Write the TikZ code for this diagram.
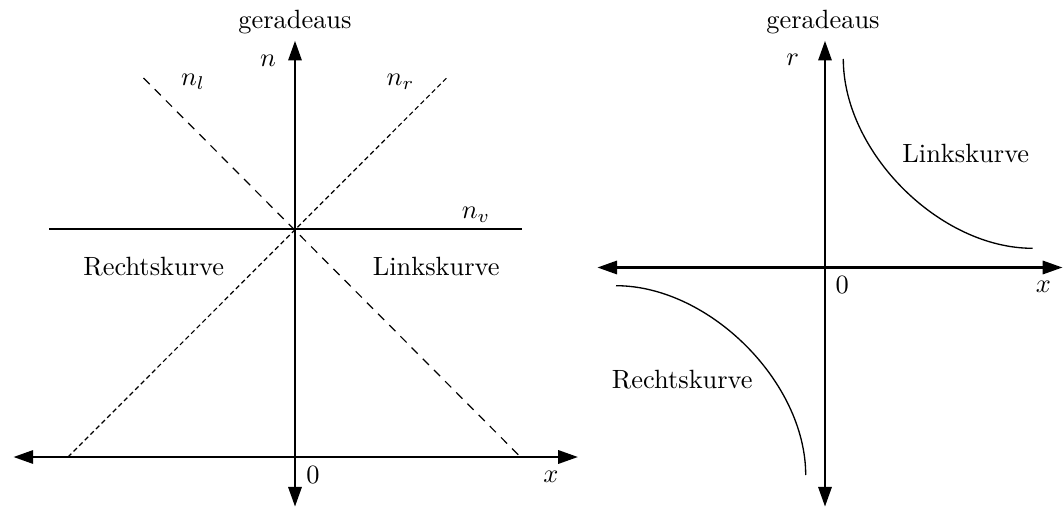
\documentclass[tikz,border=0pt]{standalone}
\usetikzlibrary{arrows.meta}
\begin{document}
\begin{tikzpicture}[x=0.3788pt,y=-0.3788pt,
  axis/.style={line width=1pt,{Triangle[length=7.5pt,width=5pt]}-{Triangle[length=7.5pt,width=5pt]}},
  thinline/.style={line width=0.5pt},
  longdash/.style={line width=0.45pt,dash pattern=on 3.3pt off 2.7pt},
  shortdash/.style={line width=0.45pt,dash pattern=on 1.8pt off 1.2pt},
  lbl/.style={inner sep=0pt,anchor=base}]
\useasboundingbox (0,0) rectangle (1063,508);
% ---------- left diagram ----------
\coordinate (Lt) at (295,40.7);
\coordinate (Lb) at (295,506.7);
\coordinate (Ll) at (13.4,457);
\coordinate (Lr) at (578,457);
\coordinate (Lvl) at (49,229);
\coordinate (Lvr) at (521.6,229);
\coordinate (Lrb) at (68,457);
\coordinate (Lrt) at (446.6,78);
\coordinate (Llt) at (143.5,78);
\coordinate (Llb) at (520.5,457);
\draw[thinline] (Lvl) -- (Lvr);
\draw[shortdash] (Lrb) -- (Lrt);
\draw[longdash] (Llt) -- (Llb);
\draw[axis] (Lb) -- (Lt);
\draw[axis] (Ll) -- (Lr);
\node[lbl] (lgerade) at (295,28.5) {geradeaus};
\node[lbl] (ln) at (268,66.5) {$n$};
\node[lbl] (lnl) at (193,85.7) {$n_l$};
\node[lbl] (lnr) at (400.5,85.7) {$n_r$};
\node[lbl] (lnv) at (476,218.3) {$n_v$};
\node[lbl] (lrechts) at (153.7,275) {Rechtskurve};
\node[lbl] (llinks) at (436.2,275) {Linkskurve};
\node[lbl] (lnull) at (313,483) {$0$};
\node[lbl] (lx) at (551,482.3) {$x$};
% ---------- right diagram ----------
\coordinate (Rt) at (825,40.7);
\coordinate (Rb) at (825,506.7);
\coordinate (Rl) at (597.3,267.5);
\coordinate (Rr) at (1062.5,267.5);
\coordinate (Ls) at (843.3,59);
\coordinate (Le) at (1032.5,248.3);
\coordinate (Rs) at (616,285.7);
\coordinate (Re) at (805.7,475);
\draw[thinline] (Ls) .. controls (843.3,152) and (939.5,248.3) .. (Le);
\draw[thinline] (Rs) .. controls (709,285.7) and (805.7,382) .. (Re);
\draw[axis] (Rb) -- (Rt);
\draw[axis] (Rl) -- (Rr);
\node[lbl] (rgerade) at (823,28.5) {geradeaus};
\node[lbl] (rr) at (792.7,65.7) {$r$};
\node[lbl] (rlinks) at (965.8,162.3) {Linkskurve};
\node[lbl] (rrechts) at (682.3,388.3) {Rechtskurve};
\node[lbl] (rnull) at (842.3,293.3) {$0$};
\node[lbl] (rx) at (1043.3,292.7) {$x$};
\end{tikzpicture}
\end{document}
